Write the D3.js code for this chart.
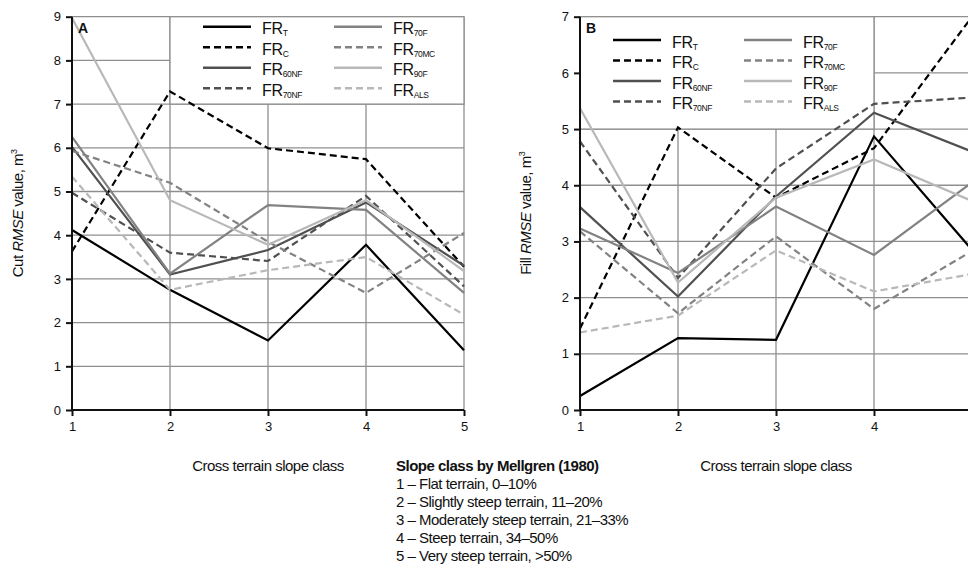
<!DOCTYPE html>
<html>
<head>
<meta charset="utf-8">
<script src="https://cdn.jsdelivr.net/npm/d3@7"></script>
<style>
  body { margin: 0; background: #fff; }
  text { font-family: "Liberation Sans Narrow", "Arial Narrow", "Liberation Sans", Arial, sans-serif; fill: #111; }
  .ejes path, .ejes line { stroke: #111; stroke-width: 2; }
  .ejes text { font-size: 13px; }
  .grid line { stroke: #8f8f8f; stroke-width: 1.3; }
  .labels { font-size: 15px; letter-spacing: -0.5px; }
</style>
</head>
<body>
<div id="graf"></div>
<script>
// slope classes on the x axis
const classes = [1, 2, 3, 4, 5]
const seriesKeys = ["T", "C", "60NF", "70NF", "70F", "70MC", "90F", "ALS"]

// panel A: cut RMSE, m3
const cutT = [4.12, 2.75, 1.59, 3.78, 1.37]
const cutC = [3.63, 7.29, 5.99, 5.74, 3.28]
const cut60NF = [6.02, 3.1, 3.66, 4.75, 3.3]
const cut70NF = [4.97, 3.6, 3.41, 4.9, 2.83]
const cut70F = [6.25, 3.12, 4.69, 4.58, 2.68]
const cut70MC = [5.93, 5.2, 3.85, 2.68, 4.05]
const cut90F = [8.97, 4.8, 3.78, 4.8, 3.18]
const cutALS = [5.34, 2.75, 3.2, 3.5, 2.18]

// panel B: fill RMSE, m3
const fillT = [0.25, 1.28, 1.25, 4.87, 2.85]
const fillC = [1.45, 5.03, 3.78, 4.66, 7.0]
const fill60NF = [3.61, 2.02, 3.8, 5.29, 4.6]
const fill70NF = [4.78, 2.35, 4.3, 5.45, 5.56]
const fill70F = [3.23, 2.44, 3.62, 2.76, 4.05]
const fill70MC = [3.18, 1.72, 3.09, 1.8, 2.83]
const fill90F = [5.37, 2.27, 3.78, 4.46, 3.72]
const fillALS = [1.38, 1.68, 2.84, 2.11, 2.42]

const slopeNotes = [
  "1 \u2013 Flat terrain, 0\u201310%",
  "2 \u2013 Slightly steep terrain, 11\u201320%",
  "3 \u2013 Moderately steep terrain, 21\u201333%",
  "4 \u2013 Steep terrain, 34\u201350%",
  "5 \u2013 Very steep terrain, >50%"
]

// line styles per series
const estilo = {
  T: { color: "#000", dash: null },
  C: { color: "#000", dash: "7,4" },
  "60NF": { color: "#505050", dash: null },
  "70NF": { color: "#505050", dash: "7,4" },
  "70F": { color: "#828282", dash: null },
  "70MC": { color: "#828282", dash: "7,4" },
  "90F": { color: "#b8b8b8", dash: null },
  ALS: { color: "#b8b8b8", dash: "7,4" }
}

const svg = d3.select("#graf").append("svg").attr("width", 968).attr("height", 564)

const panel = (cfg) => {
  const x = d3.scaleLinear().domain([1, 5]).range([cfg.left, cfg.left + 392])
  const y = d3.scaleLinear().domain([0, cfg.yMax]).range([410, 16.7])
  const g = svg.append("g")

  // gridlines
  const grid = g.append("g").attr("class", "grid")
  grid.selectAll(".h").data(d3.range(1, cfg.yMax + 1)).join("line")
    .attr("x1", x(1)).attr("x2", x(5))
    .attr("y1", (d) => y(d)).attr("y2", (d) => y(d))
    .attr("stroke", "#9a9a9a")
  grid.selectAll(".v").data(classes.slice(1)).join("line")
    .attr("x1", (d) => x(d)).attr("x2", (d) => x(d))
    .attr("y1", y(0)).attr("y2", y(cfg.yMax))

  // legend box covers the grid
  const bx = x(cfg.box[0]), by = y(cfg.yMax)
  const bw = x(cfg.box[1]) - bx, bh = y(cfg.box[2]) - by
  g.append("rect")
    .attr("x", bx).attr("y", by).attr("width", bw).attr("height", bh)
    .attr("fill", "#fff").attr("stroke", "#8f8f8f").attr("stroke-width", 1.3)

  // series
  const line = d3.line().x((d, i) => x(classes[i])).y((d) => y(d))
  seriesKeys.forEach((k) => {
    g.append("path")
      .attr("d", line(cfg.data[k]))
      .attr("fill", "none")
      .attr("stroke", estilo[k].color)
      .attr("stroke-width", 2.2)
      .attr("stroke-dasharray", estilo[k].dash)
  })

  // axes
  g.append("g").attr("class", "ejes")
    .attr("transform", `translate(${x(1)},0)`)
    .call(d3.axisLeft(y).ticks(cfg.yMax).tickSize(6).tickPadding(5))
    .call((a) => a.select(".domain").attr("d", `M0,${y(0)}V${y(cfg.yMax)}`))
  g.append("g").attr("class", "ejes")
    .attr("transform", `translate(0,${y(0)})`)
    .call(d3.axisBottom(x).tickValues(classes).tickFormat(d3.format("d")).tickSize(6).tickPadding(6))
    .call((a) => a.select(".domain").attr("d", `M${x(1)},0H${x(5)}`))
    // labels past the page edge are not shown
    .call((a) => a.selectAll(".tick text").filter((d) => x(d) > 960).remove())

  // legend
  seriesKeys.forEach((k, i) => {
    const col = Math.floor(i / 4), row = i % 4
    const ly = by + cfg.legTop + row * 20.5
    const lx = bx + 33 + col * 131
    g.append("line")
      .attr("x1", lx).attr("x2", lx + 48).attr("y1", ly).attr("y2", ly)
      .attr("stroke", estilo[k].color).attr("stroke-width", 2.4)
      .attr("stroke-dasharray", estilo[k].dash)
    const t = g.append("text").attr("x", lx + 59).attr("y", ly + 7.5)
      .style("font-size", "16px").style("letter-spacing", "-0.3px")
    t.append("tspan").text("FR")
    t.append("tspan").attr("dy", 2).style("font-size", "8.5px").style("letter-spacing", "-0.4px").text(k)
  })

  g.append("text").attr("x", x(1) + 6).attr("y", 33)
    .style("font-size", "14px").style("font-weight", "bold").text(cfg.id)

  // axis titles
  const yl = g.append("text").attr("class", "labels")
    .attr("transform", `translate(${cfg.left - 49},${y(cfg.yMax / 2)}) rotate(-90)`)
    .attr("text-anchor", "middle")
  yl.append("tspan").text(cfg.yWord + " ")
  yl.append("tspan").style("font-style", "italic").text("RMSE")
  yl.append("tspan").text(" value, m")
  yl.append("tspan").attr("dy", -6).style("font-size", "9px").text("3")

  g.append("text").attr("class", "labels").attr("x", x(3)).attr("y", 471)
    .attr("text-anchor", "middle")
    .text("Cross terrain slope class")
}

panel({
  id: "A", left: 72, yMax: 9, box: [2, 5, 7], legTop: 10, yWord: "Cut",
  data: { T: cutT, C: cutC, "60NF": cut60NF, "70NF": cut70NF, "70F": cut70F, "70MC": cut70MC, "90F": cut90F, ALS: cutALS }
})
panel({
  id: "B", left: 580, yMax: 7, box: [1, 4, 5], legTop: 23.3, yWord: "Fill",
  data: { T: fillT, C: fillC, "60NF": fill60NF, "70NF": fill70NF, "70F": fill70F, "70MC": fill70MC, "90F": fill90F, ALS: fillALS }
})

// slope class notes
svg.append("text").attr("class", "labels").attr("x", 396).attr("y", 471)
  .style("font-weight", "bold")
  .text("Slope class by Mellgren (1980)")
svg.selectAll(".nota").data(slopeNotes).join("text")
  .attr("class", "labels")
  .attr("x", 396).attr("y", (d, i) => 489 + i * 18)
  .text((d) => d)
</script>
</body>
</html>
